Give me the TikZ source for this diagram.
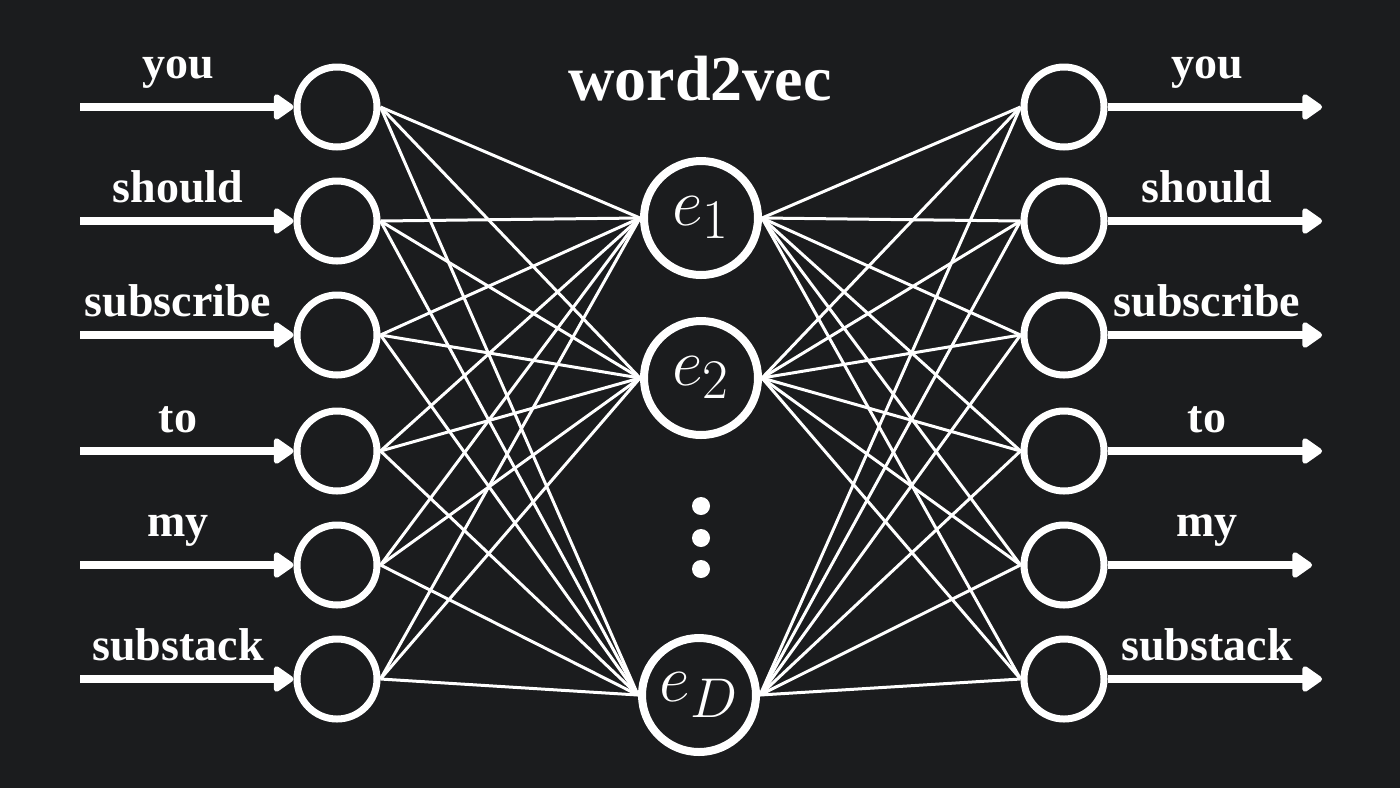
\documentclass[tikz,border=0pt]{standalone}
\usepackage{graphicx}
\usepackage{fontspec}
\setmainfont{Liberation Serif}
\usetikzlibrary{arrows.meta}
\definecolor{bg}{RGB}{27,28,30}
\newcommand{\hidlab}[1]{\scalebox{1.35}{$#1$}}
\begin{document}
\begin{tikzpicture}[x=0.5pt,y=-0.5pt,
  io/.style={circle,draw=white,line width=3.5pt,minimum size=40pt,inner sep=0pt},
  hid/.style={circle,draw=white,line width=4pt,minimum size=57pt,inner sep=0pt,text=white,font=\fontsize{24.88}{30}\selectfont},
  word/.style={text=white,font=\bfseries\fontsize{23}{28}\selectfont,anchor=south,inner sep=0pt},
  title/.style={text=white,font=\bfseries\fontsize{32}{38}\selectfont,anchor=base,inner sep=0pt},
  ioarrow/.style={white,line width=4pt,-{Triangle[length=11pt,width=14.5pt,round]}},
  link/.style={white,line width=1.5pt},
  dotc/.style={circle,fill=white,minimum size=9pt,inner sep=0pt}]
\fill[bg] (0,0) rectangle (1400,788);
\useasboundingbox (0,0) rectangle (1400,788);

\node[title] (title) at (700,100) {word2vec};

% rows
\foreach \i/\y/\w/\re in {1/107/you/1322,2/221/should/1322,3/335/subscribe/1322,4/451/to/1322,5/565/my/1312,6/679/substack/1322}{
  \node[io] (l\i) at (337,\y) {};
  \node[io] (r\i) at (1064,\y) {};
  \coordinate (a\i) at (80,\y);
  \coordinate (b\i) at (\re,\y);
  \draw[ioarrow] (a\i) -- (l\i.west);
  \draw[ioarrow] (r\i.east) -- (b\i);
  \node[word] (lw\i) at (178,\y-18) {\w};
  \node[word] (rw\i) at (1207,\y-18) {\w};
}

\node[hid] (m1) at (701,218) {\hidlab{e_1}};
\node[hid] (m2) at (701,378) {\hidlab{e_2}};
\node[hid] (m3) at (699,695) {\hidlab{e_D}};

\node[dotc] (d1) at (701,506) {};
\node[dotc] (d2) at (701,538) {};
\node[dotc] (d3) at (701,569) {};

\foreach \i in {1,...,6}{
  \foreach \m in {1,2,3}{
    \draw[link] (l\i.east) -- (m\m.west);
    \draw[link] (m\m.east) -- (r\i.west);
  }
}
\end{tikzpicture}
\end{document}
